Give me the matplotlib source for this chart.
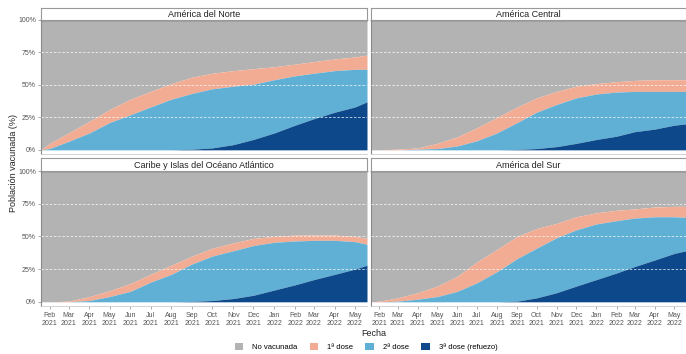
import numpy as np
import pandas as pd
import matplotlib
matplotlib.use("Agg")
import matplotlib.pyplot as plt
import matplotlib.dates as mdates
from matplotlib.patches import Patch

plt.rcParams['font.family'] = ['Liberation Sans', 'DejaVu Sans']

# fechas: 19 ene 2021, el 1 de cada mes feb 2021 - may 2022, 19 may 2022
fechas = pd.to_datetime(
    ["2021-01-19"] + [d.strftime("%Y-%m-%d") for d in pd.date_range("2021-02-01", "2022-05-01", freq="MS")]
    + ["2022-05-19"])

regiones = ["América del Norte", "América Central",
            "Caribe y Islas del Océano Atlántico", "América del Sur"]

# % población con al menos 1 dosis, esquema completo, refuerzo
norte_1 = [0, 5, 13, 22, 31, 39, 45, 51, 56, 59, 61, 62.5, 64, 66, 68, 70, 71.5, 73]
norte_2 = [0, 1, 6.5, 13, 21, 27, 33, 39, 43.5, 47, 49, 50.5, 54, 57, 59, 61, 62, 62]
norte_3 = [0, 0, 0, 0, 0, 0, 0, 0, 0.5, 1.5, 4, 8, 13, 19, 24, 29, 33, 37]

central_1 = [0, 0, 0.5, 1.5, 5, 10, 17, 25, 33, 40, 45, 49, 51, 52.5, 53.5, 54, 54, 54]
central_2 = [0, 0, 0, 0.5, 1, 3, 7, 13, 21, 29, 35, 40, 43, 44.5, 45, 45, 45, 45]
central_3 = [0, 0, 0, 0, 0, 0, 0, 0, 0.3, 1, 2.5, 5, 8, 10.5, 14, 16, 19, 20]

caribe_1 = [0, 0, 0.5, 4, 8.5, 14, 21, 28, 35, 41, 45, 48.5, 50, 51, 51, 51, 50, 48.5]
caribe_2 = [0, 0, 0, 1, 4, 8, 15, 21, 29, 35, 39, 43, 45.5, 46.5, 47, 47, 46, 44]
caribe_3 = [0, 0, 0, 0, 0, 0, 0, 0, 0.3, 1, 2.5, 5, 9, 13, 17, 21, 25, 28]

sur_1 = [0, 0.5, 3, 7, 12, 19.5, 30.5, 40, 50, 56, 60, 65, 68, 70, 71, 72.5, 73, 73]
sur_2 = [0, 0, 0.5, 2, 4, 8, 14.5, 23, 33, 41, 49, 55, 59.5, 62, 64, 65, 65, 64.5]
sur_3 = [0, 0, 0, 0, 0, 0, 0, 0, 0.5, 3, 7, 12, 17, 22, 27, 32, 37, 39]

series = [(norte_1, norte_2, norte_3), (central_1, central_2, central_3),
          (caribe_1, caribe_2, caribe_3), (sur_1, sur_2, sur_3)]

categorias = ["No vacunada", "1ª dose", "2ª dose", "3ª dose (refuezo)"]
colores = ["#B3B3B3", "#F2AC94", "#60AFD4", "#0D498A"]

W, H = 686, 354
fig = plt.figure(figsize=(W / 100, H / 100), dpi=100)

# (x izq, ancho, y arriba panel, y abajo panel, y arriba strip) en píxeles
paneles = [(41, 326, 20, 154, 8), (371, 315, 20, 154, 8),
           (41, 326, 171, 306, 158), (371, 315, 171, 306, 158)]

for i, (reg, (s1, s2, s3)) in enumerate(zip(regiones, series)):
    x0, pw, ytop, ybot, ystrip = paneles[i]
    ax = fig.add_axes([x0 / W, 1 - ybot / H, pw / W, (ybot - ytop) / H])
    s1, s2, s3 = np.array(s1), np.array(s2), np.array(s3)
    ax.fill_between(fechas, s1, 100, color=colores[0], lw=0)
    ax.fill_between(fechas, s2, s1, color=colores[1], lw=0)
    ax.fill_between(fechas, s3, s2, color=colores[2], lw=0)
    ax.fill_between(fechas, 0, s3, color=colores[3], lw=0)
    for yv in [25, 50, 75]:
        ax.axhline(yv, color='white', lw=0.6, ls=(0, (3, 2)), alpha=0.8, zorder=5)
    ax.set_ylim(-3.2, 100)
    ax.set_xlim(fechas[0], fechas[-1])
    ax.set_yticks([0, 25, 50, 75, 100])
    ax.xaxis.set_major_locator(mdates.MonthLocator())
    ax.xaxis.set_major_formatter(mdates.DateFormatter("%b\n%Y"))
    ax.tick_params(length=2, width=0.5, color='#888888', labelcolor='#555555',
                   labelsize=5, pad=1.5)
    ax.tick_params(axis='x', pad=2, labelsize=5)
    if i % 2 == 0:
        ax.set_yticklabels(["0%", "25%", "50%", "75%", "100%"])
    else:
        ax.tick_params(axis='y', labelleft=False, length=0)
    if i < 2:
        ax.tick_params(axis='x', labelbottom=False, length=0)
    ax.spines['right'].set_visible(False)
    ax.spines['top'].set_color('#555555')
    ax.spines['top'].set_linewidth(1.0)
    ax.spines['left'].set_color('#888888')
    ax.spines['left'].set_linewidth(0.8)
    ax.spines['bottom'].set_color('#cccccc')
    ax.spines['bottom'].set_linewidth(0.6)

    # cabecera del panel
    sax = fig.add_axes([x0 / W, 1 - ytop / H, pw / W, (ytop - ystrip) / H])
    sax.set_xticks([])
    sax.set_yticks([])
    sax.set_facecolor('white')
    for sp in sax.spines.values():
        sp.set_color('#999999')
        sp.set_linewidth(0.8)
    sax.text(0.5, 0.45, reg, ha='center', va='center', fontsize=6.5,
             color='#222222', transform=sax.transAxes)

fig.text(14 / W, 1 - 163 / H, "Población vacunada (%)", rotation=90,
         ha='center', va='center', fontsize=6.5, color='#222222')
fig.text(374 / W, 1 - 333 / H, "Fecha", ha='center', va='center',
         fontsize=6.5, color='#222222')

handles = [Patch(facecolor=c, edgecolor='none') for c in colores]
fig.legend(handles, categorias, loc='center', bbox_to_anchor=(366 / W, 1 - 347 / H),
           ncol=4, frameon=False, fontsize=5.5, handlelength=1.1, handleheight=1.1,
           columnspacing=1.6, handletextpad=1.2, borderpad=0)

fig.savefig("out.png", dpi=100)
